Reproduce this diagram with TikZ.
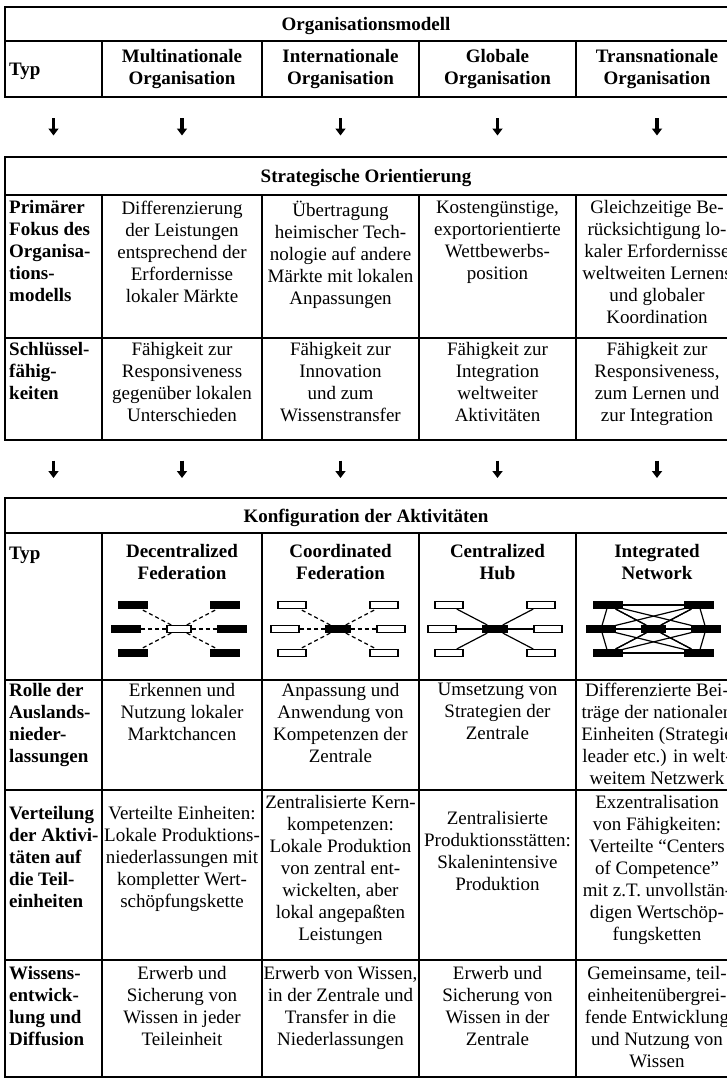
\documentclass[tikz,border=0pt]{standalone}
\usepackage{fontspec}
\setmainfont{Liberation Serif}
\usetikzlibrary{arrows.meta}

\tikzset{
  grid/.style={line width=2pt, line cap=rect},
  cell/.style={inner sep=0pt, align=center, anchor=north,
    font=\fontsize{19}{22}\selectfont, execute at begin node=\strut},
  headcell/.style={cell, font=\fontsize{19}{22}\selectfont\bfseries},
  labelcell/.style={inner sep=0pt, align=left, anchor=north west,
    font=\fontsize{19}{22}\selectfont\bfseries, execute at begin node=\strut},
  titlecell/.style={inner sep=0pt, anchor=base, font=\fontsize{19}{22}\selectfont\bfseries},
  dnarrow/.style={line width=3.5pt, -{Triangle[width=10pt,length=7pt]}},
  unitbox/.style={draw, line width=1.1pt, minimum width=28pt, minimum height=7pt, inner sep=0pt},
  darkunit/.style={unitbox, fill=black},
  lightunit/.style={unitbox, fill=white},
  dashlink/.style={line width=1.2pt, dash pattern=on 4pt off 3pt},
  solidlink/.style={line width=1.2pt},
}

\begin{document}
\begin{tikzpicture}[x=1pt,y=-1pt]
\useasboundingbox (0,0) rectangle (727,1082);
\fill[white] (0,0) rectangle (727,1082);
\clip (0,0) rectangle (727,1082);

% ---------- table 1: Organisationsmodell ----------
\draw[grid] (5,7) -- (740,7) (5,41) -- (740,41) (5,97) -- (740,97) (5,7) -- (5,97);
\foreach \x in {102,262,419,576} \draw[grid] (\x,41) -- (\x,97);

\node[titlecell] (omTitle) at (366,30) {Organisationsmodell};
\node[labelcell] (omTyp) at (9,60) {Typ};
\node[headcell] (omMulti) at (182,49) {Multinationale\\Organisation};
\node[headcell] (omInter) at (340.5,49) {Internationale\\Organisation};
\node[headcell] (omGlob) at (497.5,49) {Globale\\Organisation};
\node[headcell] (omTrans) at (657,49) {Transnationale\\Organisation};

% ---------- arrows between the tables ----------
\foreach \x [count=\i] in {53.5,182,340.5,497.5,657} {
  \coordinate (upA\i) at (\x,118);
  \coordinate (dnA\i) at (\x,135.5);
  \draw[dnarrow] (upA\i) -- (dnA\i);
  \coordinate (upB\i) at (\x,460.5);
  \coordinate (dnB\i) at (\x,478);
  \draw[dnarrow] (upB\i) -- (dnB\i);
}

% ---------- table 2: Strategische Orientierung ----------
\draw[grid] (5,157) -- (740,157) (5,195) -- (740,195) (5,338) -- (740,338)
  (5,440) -- (740,440) (5,157) -- (5,440);
\foreach \x in {102,262,419,576} \draw[grid] (\x,195) -- (\x,440);

\node[titlecell] (soTitle) at (366,182.5) {Strategische Orientierung};

\node[labelcell] (soPrim) at (9,200.5) {Primärer\\Fokus des\\Organisa-\\tions-\\modells};
\node[cell] (soP2) at (182,200.5) {Differenzierung\\der Leistungen\\entsprechend der\\Erfordernisse\\lokaler Märkte};
\node[cell] (soP3) at (340.5,200.5) {Übertragung\\heimischer Tech-\\nologie auf andere\\Märkte mit lokalen\\Anpassungen};
\node[cell] (soP4) at (497.5,200.5) {Kostengünstige,\\exportorientierte\\Wettbewerbs-\\position};
\node[cell] (soP5) at (657,200.5) {Gleichzeitige Be-\\rücksichtigung lo-\\kaler Erfordernisse\\weltweiten Lernens\\und globaler\\Koordination};

\node[labelcell] (soKey) at (9,342) {Schlüssel-\\fähig-\\keiten};
\node[cell] (soK2) at (182,342) {Fähigkeit zur\\Responsiveness\\gegenüber lokalen\\Unterschieden};
\node[cell] (soK3) at (340.5,342) {Fähigkeit zur\\Innovation\\und zum\\Wissenstransfer};
\node[cell] (soK4) at (497.5,342) {Fähigkeit zur\\Integration\\weltweiter\\Aktivitäten};
\node[cell] (soK5) at (657,342) {Fähigkeit zur\\Responsiveness,\\zum Lernen und\\zur Integration};

% ---------- table 3: Konfiguration der Aktivitäten ----------
\draw[grid] (5,498) -- (740,498) (5,533) -- (740,533) (5,680) -- (740,680)
  (5,790) -- (740,790) (5,960) -- (740,960) (5,1077) -- (740,1077) (5,498) -- (5,1077);
\foreach \x in {102,262,419,576} \draw[grid] (\x,533) -- (\x,1077);

\node[titlecell] (kaTitle) at (366,522) {Konfiguration der Aktivitäten};

\node[labelcell] (kaTyp) at (9,544) {Typ};
\node[headcell] (kaDec) at (182,544) {Decentralized\\Federation};
\node[headcell] (kaCoo) at (340.5,544) {Coordinated\\Federation};
\node[headcell] (kaCen) at (497.5,544) {Centralized\\Hub};
\node[headcell] (kaInt) at (657,544) {Integrated\\Network};

% Decentralized Federation: dark units around a light hub, dashed links
\node[darkunit] (dfTL) at (133,605) {};
\node[darkunit] (dfTR) at (225,605) {};
\node[darkunit] (dfML) at (126,629) {};
\node[darkunit] (dfMR) at (232,629) {};
\node[darkunit] (dfBL) at (133,653) {};
\node[darkunit] (dfBR) at (225,653) {};
\node[lightunit, minimum width=24pt] (dfC) at (179,629) {};
\foreach \n in {dfTL,dfTR,dfML,dfMR,dfBL,dfBR} \draw[dashlink] (dfC) -- (\n);

% Coordinated Federation: light units around a dark hub, dashed links
\node[lightunit] (cfTL) at (292,605) {};
\node[lightunit] (cfTR) at (384,605) {};
\node[lightunit] (cfML) at (285,629) {};
\node[lightunit] (cfMR) at (391,629) {};
\node[lightunit] (cfBL) at (292,653) {};
\node[lightunit] (cfBR) at (384,653) {};
\node[darkunit, minimum width=24pt] (cfC) at (338,629) {};
\foreach \n in {cfTL,cfTR,cfML,cfMR,cfBL,cfBR} \draw[dashlink] (cfC) -- (\n);

% Centralized Hub: light units, dark hub, solid links
\node[lightunit] (chTL) at (449,605) {};
\node[lightunit] (chTR) at (541,605) {};
\node[lightunit] (chML) at (442,629) {};
\node[lightunit] (chMR) at (548,629) {};
\node[lightunit] (chBL) at (449,653) {};
\node[lightunit] (chBR) at (541,653) {};
\node[darkunit, minimum width=24pt] (chC) at (495,629) {};
\foreach \n in {chTL,chTR,chML,chMR,chBL,chBR} \draw[solidlink] (chC) -- (\n);

% Integrated Network: dark units, dense mesh of solid links
\node[darkunit] (inTL) at (608,605) {};
\node[darkunit] (inTR) at (699,605) {};
\node[darkunit] (inML) at (601,629) {};
\node[darkunit] (inMR) at (706,629) {};
\node[darkunit] (inBL) at (608,653) {};
\node[darkunit] (inBR) at (699,653) {};
\node[darkunit, minimum width=24pt] (inC) at (653.5,629) {};
\foreach \a/\b in {inTL/inTR,inBL/inBR,inTL/inML,inML/inBL,inTR/inMR,inMR/inBR,
  inTL/inC,inTR/inC,inBL/inC,inBR/inC,inML/inC,inMR/inC,inTL/inBR,inTR/inBL,
  inML/inTR,inML/inBR,inMR/inTL,inMR/inBL}
  \draw[solidlink] (\a) -- (\b);

\node[labelcell] (kaRole) at (9,683) {Rolle der\\Auslands-\\nieder-\\lassungen};
\node[cell] (kaR2) at (182,683) {Erkennen und\\Nutzung lokaler\\Marktchancen};
\node[cell] (kaR3) at (340.5,683) {Anpassung und\\Anwendung von\\Kompetenzen der\\Zentrale};
\node[cell] (kaR4) at (497.5,683) {Umsetzung von\\Strategien der\\Zentrale};
\node[cell] (kaR5) at (657,683) {Differenzierte Bei-\\träge der nationalen\\Einheiten (Strategie\\leader etc.) in welt-\\weitem Netzwerk};

\node[labelcell] (kaDist) at (9,806) {Verteilung\\der Aktivi-\\täten auf\\die Teil-\\einheiten};
\node[cell] (kaD2) at (182,806) {Verteilte Einheiten:\\Lokale Produktions-\\niederlassungen mit\\kompletter Wert-\\schöpfungskette};
\node[cell] (kaD3) at (340.5,795) {Zentralisierte Kern-\\kompetenzen:\\Lokale Produktion\\von zentral ent-\\wickelten, aber\\lokal angepaßten\\Leistungen};
\node[cell] (kaD4) at (497.5,811) {Zentralisierte\\Produktionsstätten:\\Skalenintensive\\Produktion};
\node[cell] (kaD5) at (657,795) {Exzentralisation\\von Fähigkeiten:\\Verteilte “Centers\\of Competence”\\mit z.T. unvollstän-\\digen Wertschöp-\\fungsketten};

\node[labelcell] (kaKnow) at (9,966) {Wissens-\\entwick-\\lung und\\Diffusion};
\node[cell] (kaW2) at (182,966) {Erwerb und\\Sicherung von\\Wissen in jeder\\Teileinheit};
\node[cell] (kaW3) at (340.5,966) {Erwerb von Wissen,\\in der Zentrale und\\Transfer in die\\Niederlassungen};
\node[cell] (kaW4) at (497.5,966) {Erwerb und\\Sicherung von\\Wissen in der\\Zentrale};
\node[cell] (kaW5) at (657,966) {Gemeinsame, teil-\\einheitenübergrei-\\fende Entwicklung\\und Nutzung von\\Wissen};
\end{tikzpicture}
\end{document}
